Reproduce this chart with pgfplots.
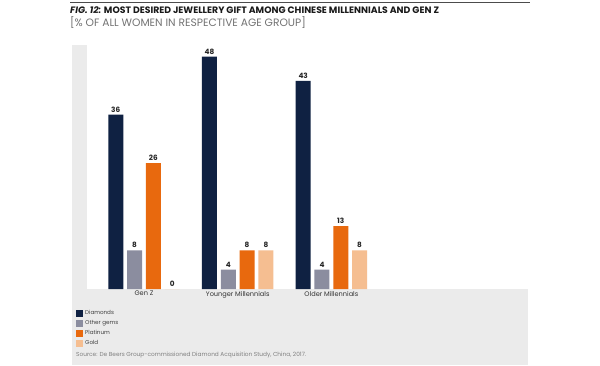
\documentclass[border=0pt]{standalone}
\usepackage{pgfplots}
\pgfplotsset{compat=1.18}
\usepackage{fontspec}
\setmainfont{Poppins}
\definecolor{navy}{HTML}{0F2142}
\definecolor{ogems}{HTML}{8B8D9F}
\definecolor{plat}{HTML}{E8690E}
\definecolor{goldc}{HTML}{F5BE91}
\definecolor{bggrey}{HTML}{EBEBEB}
\begin{document}
\begin{tikzpicture}
\path[use as bounding box, fill=white] (0pt,0pt) rectangle (600pt,365pt);
% grey panel (L shape)
\fill[bggrey] (72pt,76pt) rectangle (87pt,320pt);
\fill[bggrey] (72pt,0pt) rectangle (528pt,76pt);
% top rule
\draw[black!70, line width=0.8pt] (70pt,363pt) -- (530pt,363pt);
% title
\node[anchor=west, inner sep=0pt, text=black!90] at (70pt,355pt)
  {\fontsize{9.3}{10}\selectfont\bfseries\textit{FIG. 12:} MOST DESIRED JEWELLERY GIFT AMONG CHINESE MILLENNIALS AND GEN Z};
\node[anchor=west, inner sep=0pt, text=black!55] at (70pt,342.5pt)
  {\fontsize{10.7}{11}\selectfont [\% OF ALL WOMEN IN RESPECTIVE AGE GROUP]};
% source
\node[anchor=west, inner sep=0pt, text=black!50] at (76pt,10pt)
  {\fontsize{5.8}{6}\selectfont Source: De Beers Group-commissioned Diamond Acquisition Study, China, 2017.};
\begin{axis}[
  at={(87pt,76pt)}, anchor=south west,
  scale only axis, width=441pt, height=244pt,
  xmin=-0.608, xmax=4.098, ymin=0, ymax=50.4,
  axis line style={draw=none}, clip=false,
  ytick=\empty, major tick length=0pt,
  ybar=3.8pt, bar width=15pt,
  xtick={0,1,2}, xticklabels={Gen Z, Younger Millennials, Older Millennials},
  xticklabel style={font=\fontsize{6.6}{7}\selectfont, text=black!80, inner sep=1pt, yshift=-1pt},
  /pgf/number format/assume math mode=true,
  nodes near coords,
  nodes near coords style={font=\fontsize{7.3}{8}\selectfont\bfseries, text=black!85, inner sep=2pt},
  legend style={at={(axis description cs:-0.025,-0.08)}, anchor=north west,
    draw=none, fill=none, font=\fontsize{5.6}{6}\selectfont, text=black!75,
    row sep=0.2pt, inner sep=0pt, cells={anchor=west}},
  legend image code/.code={\fill[#1,draw=none] (0pt,-3.5pt) rectangle (7pt,3.5pt);},
]
\addplot[fill=navy, draw=none] coordinates {(0,36) (1,48) (2,43)};
\addplot[fill=ogems, draw=none] coordinates {(0,8) (1,4) (2,4)};
\addplot[fill=plat, draw=none] coordinates {(0,26) (1,8) (2,13)};
\addplot[fill=goldc, draw=none] coordinates {(0,0) (1,8) (2,8)};
\legend{Diamonds, Other gems, Platinum, Gold}
\end{axis}
\end{tikzpicture}
\end{document}
